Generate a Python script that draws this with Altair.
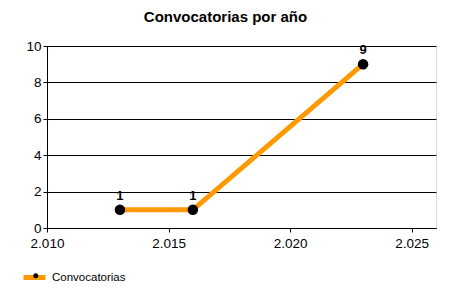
import altair as alt
import pandas as pd

years = [2013, 2016, 2023]
counts = [1, 1, 9]
series = ["Convocatorias", "Convocatorias", "Convocatorias"]

df = pd.DataFrame({"year": years, "count": counts, "serie": series})

FONT = "Liberation Sans"

x = alt.X("year:Q", scale=alt.Scale(domain=[2010, 2026], nice=False, zero=False),
          axis=alt.Axis(values=[2010, 2015, 2020, 2025], title=None, grid=False,
                        labelExpr="replace(format(datum.value, ','), ',', '.')",
                        labelFontSize=13.5, labelColor="black", labelFont=FONT,
                        domainColor="black", tickColor="black", tickSize=4,
                        labelPadding=4, labelFlush=False))
y = alt.Y("count:Q", scale=alt.Scale(domain=[0, 10], nice=False),
          axis=alt.Axis(values=[0, 2, 4, 6, 8, 10], title=None, grid=True,
                        gridColor="black", gridOpacity=1, gridWidth=1,
                        labelFontSize=13.5, labelColor="black", labelFont=FONT,
                        domainColor="black", tickColor="black", tickSize=4,
                        labelPadding=2, labelFlush=False))

line = alt.Chart(df).mark_line(strokeWidth=5, strokeCap="butt").encode(
    x=x, y=y,
    color=alt.Color("serie:N", scale=alt.Scale(range=["#FF9900"]),
                    legend=alt.Legend(orient="none", legendX=-26, legendY=218,
                                      title=None, symbolType="stroke",
                                      symbolStrokeWidth=5, symbolSize=484,
                                      labelFont=FONT, labelFontSize=11.5,
                                      labelColor="black", labelOffset=4,
                                      zindex=0)),
)

points = alt.Chart(df).mark_point(filled=True, size=110, opacity=1, color="black").encode(
    x=x, y=y,
    shape=alt.Shape("serie:N", scale=alt.Scale(range=["circle"]),
                    legend=alt.Legend(orient="none", legendX=-17, legendY=224,
                                      title=None, symbolFillColor="black",
                                      symbolStrokeColor="black", symbolSize=25,
                                      labelExpr="''", labelFontSize=11.5,
                                      zindex=2)),
)

labels = alt.Chart(df).mark_text(dy=-14, fontWeight="bold", fontSize=13,
                                 font=FONT, color="black").encode(
    x=x, y=y, text="count:Q"
)

chart = alt.layer(line, points, labels).resolve_legend(
    color="independent", shape="independent"
).properties(
    width=389, height=182,
    autosize=alt.AutoSizeParams(type="none"),
    padding={"left": 47, "top": 46, "right": 14, "bottom": 72},
    title=alt.TitleParams("Convocatorias por año", font=FONT, fontSize=15,
                          fontWeight="bold", color="black", offset=14, dx=-16,
                          anchor="middle"),
).configure_view(stroke=None).configure(background="white")

chart.save("out.html", embed_options={"renderer": "svg", "actions": False})
